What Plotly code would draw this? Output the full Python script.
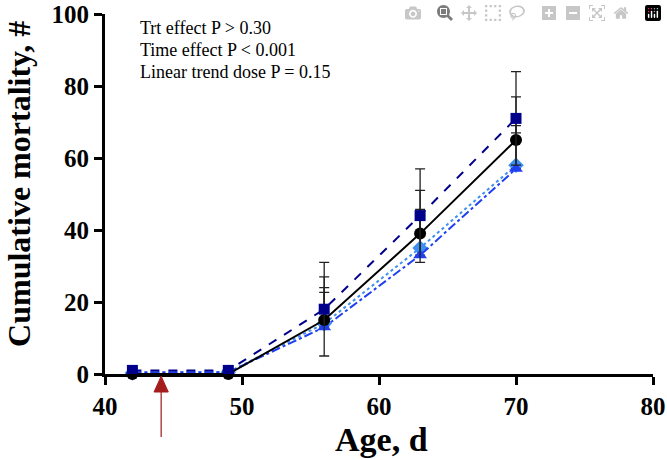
import plotly.graph_objects as go

age = [42, 49, 56, 63, 70]

# Series values (cumulative mortality, #)
ctrl = [0, 0, 15, 39, 65]          # black circles, solid
ctrl_err = [0, 0, 12, 12, 12]

sq = [1, 1, 18, 44, 71]            # navy squares, dashed
sq_err = [0.5, 0.5, 13, 13, 13]

dia = [0.3, 0.5, 14, 35, 58]       # light blue diamonds, dotted
dia_err = [0, 0, 10, 10.7, 11]

tri = [0.5, 0.5, 13, 33, 57]       # blue triangles, dash-dot
tri_err = [0, 0, 9.7, 11, 10]

x_ticks = [40, 50, 60, 70, 80]
y_ticks = [0, 20, 40, 60, 80, 100]
stats_text = ["Trt effect P > 0.30", "Time effect P < 0.001", "Linear trend dose P = 0.15"]
x_title = "Age, d"
y_title = "Cumulative mortality, #"
arrow_age = 44.1

FONT = "Liberation Serif, Times New Roman, serif"

fig = go.Figure()

def add(y, err, color, dash, symbol, size, minus=None):
    fig.add_trace(go.Scatter(
        x=age, y=y, mode="lines+markers",
        line=dict(color=color, width=2, dash=dash),
        marker=dict(color=color, symbol=symbol, size=size),
        error_y=dict(type="data", array=err,
                     arrayminus=minus if minus is not None else [0]*len(err),
                     symmetric=False, color="#222222", thickness=1.3, width=5),
        cliponaxis=False, showlegend=False,
    ))

add(dia, dia_err, "#3d8ff0", "dot", "diamond", 12)
add(tri, tri_err, "#1f3ff0", "dashdot", "triangle-up", 12)
add(ctrl, ctrl_err, "#000000", "solid", "circle", 12)
add(sq, sq_err, "#00008b", "dash", "square", 11, minus=sq_err)

for i, t in enumerate(stats_text):
    fig.add_annotation(x=0.06, y=0.961 - i * 0.061, xref="paper", yref="paper",
                       text=t, showarrow=False, xanchor="left", yanchor="middle",
                       font=dict(family=FONT, size=18, color="#000"))

# axis titles
fig.add_annotation(x=0.505, y=-0.183, xref="paper", yref="paper", text=f"<b>{x_title}</b>",
                   showarrow=False, xanchor="center", yanchor="middle",
                   font=dict(family=FONT, size=34, color="black"))
fig.add_annotation(x=-0.157, y=0.528, xref="paper", yref="paper", text=f"<b>{y_title}</b>",
                   showarrow=False, xanchor="center", yanchor="middle", textangle=-90,
                   font=dict(family=FONT, size=32, color="black"))

# red arrow marking treatment start
fig.add_shape(type="line", xref="x", yref="paper", x0=arrow_age, x1=arrow_age,
              y0=-0.045, y1=-0.175, line=dict(color="#a52a2a", width=1.3))
fig.add_shape(type="path", xref="x", yref="paper",
              path=f"M {arrow_age-0.52},-0.05 L {arrow_age+0.52},-0.05 L {arrow_age},-0.006 Z",
              fillcolor="#a51c1c", line=dict(color="#a51c1c", width=1))

axis_common = dict(showline=True, linecolor="black", linewidth=3, ticks="outside",
                   ticklen=8, tickwidth=3, tickcolor="black", showgrid=False,
                   zeroline=False, ticklabeloverflow="allow", automargin=False,
                   tickfont=dict(family=FONT, size=25, color="black"))

fig.update_layout(
    width=667, height=460,
    margin=dict(l=105, r=14, t=14, b=86),
    plot_bgcolor="white", paper_bgcolor="white",
    xaxis=dict(range=[40, 80], tickvals=x_ticks,
               ticktext=[f"<b>{v}</b>" for v in x_ticks],
               **axis_common),
    yaxis=dict(range=[0, 100], tickvals=y_ticks,
               ticktext=[f"<b>{v}</b>" for v in y_ticks],
               **axis_common),
)

fig.write_html("out.html",
               post_script="document.body.style.margin='0';document.body.style.overflow='hidden';")
